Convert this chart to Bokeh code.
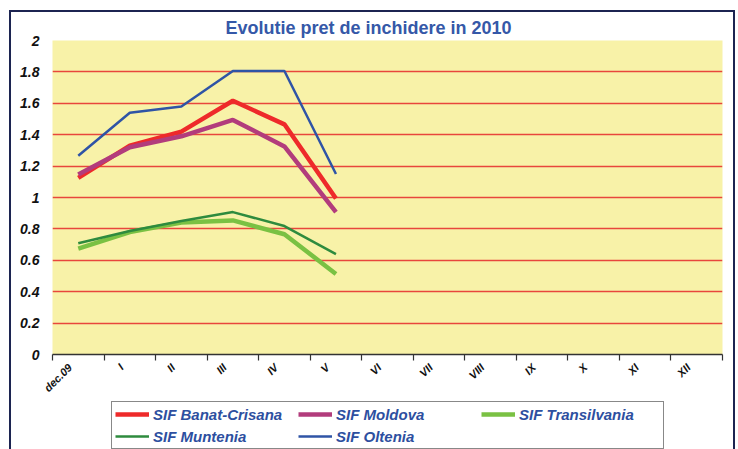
import math
from bokeh.plotting import figure
from bokeh.layouts import column
from bokeh.models import (FixedTicker, NumeralTickFormatter, Legend, LegendItem,
                          Range1d, CustomJSTickFormatter)
from bokeh.embed import file_html
from bokeh.resources import INLINE

months = ["dec.09", "I", "II", "III", "IV", "V", "VI", "VII", "VIII", "IX", "X", "XI", "XII"]
banat = [1.125, 1.33, 1.42, 1.616, 1.466, 0.994]
moldova = [1.146, 1.32, 1.39, 1.494, 1.325, 0.907]
transilvania = [0.675, 0.78, 0.84, 0.854, 0.766, 0.513]
muntenia = [0.709, 0.787, 0.85, 0.907, 0.818, 0.639]
oltenia = [1.266, 1.54, 1.58, 1.806, 1.806, 1.15]
y_ticks = [0, 0.2, 0.4, 0.6, 0.8, 1.0, 1.2, 1.4, 1.6, 1.8, 2.0]
title_text = "Evolutie pret de inchidere in 2010"

series = [
    ("SIF Banat-Crisana", banat, "#ee2a2a", 4.5),
    ("SIF Moldova", moldova, "#b23c7c", 4.5),
    ("SIF Transilvania", transilvania, "#7ac143", 4.5),
    ("SIF Muntenia", muntenia, "#2e8b3e", 2.5),
    ("SIF Oltenia", oltenia, "#2f54a6", 2.5),
]

centers = [i + 0.5 for i in range(len(months))]
label_pos = [i + 0.34 for i in range(len(months))]
bounds = list(range(len(months) + 1))
xs = centers[:len(banat)]

p = figure(width=722, height=389, output_backend="svg", toolbar_location=None,
           x_range=Range1d(0, len(months)), y_range=Range1d(0, 2),
           min_border_left=41, min_border_right=11, min_border_top=28, min_border_bottom=45)
p.background_fill_color = "#f8f2a8"
p.border_fill_color = "white"
p.outline_line_color = None

# title
p.title.text = title_text
p.title.align = "left"
p.title.offset = 173
p.title.standoff = 5
p.title.text_font = "Liberation Sans"
p.title.text_font_style = "bold"
p.title.text_font_size = "18px"
p.title.text_color = "#3558a8"

# grid
p.xgrid.visible = False
p.ygrid.ticker = FixedTicker(ticks=y_ticks)
p.ygrid.grid_line_color = "#e8473c"
p.ygrid.grid_line_width = 1.5

# x axis
xa = p.xaxis[0]
xa.ticker = FixedTicker(ticks=label_pos, minor_ticks=bounds)
xa.formatter = CustomJSTickFormatter(args=dict(labels=months),
                                     code="return labels[Math.floor(tick)] || '';")
xa.major_tick_in = 0
xa.major_tick_out = 0
xa.minor_tick_in = 0
xa.minor_tick_out = 6
xa.minor_tick_line_color = "#333333"
xa.minor_tick_line_width = 1.2
xa.axis_line_color = "#333333"
xa.axis_line_width = 1.5
xa.major_label_orientation = math.pi / 4
xa.major_label_standoff = 5
xa.major_label_text_font = "Liberation Sans"
xa.major_label_text_font_style = "bold italic"
xa.major_label_text_font_size = "11px"
xa.major_label_text_color = "#111111"

# y axis
ya = p.yaxis[0]
ya.ticker = FixedTicker(ticks=y_ticks)
ya.formatter = NumeralTickFormatter(format="0.[0]")
ya.axis_line_color = None
ya.major_tick_line_color = None
ya.minor_tick_line_color = None
ya.major_label_standoff = 7
ya.major_label_text_font = "Liberation Sans"
ya.major_label_text_font_style = "bold italic"
ya.major_label_text_font_size = "14px"
ya.major_label_text_color = "#111111"

for name, vals, color, lw in series:
    p.line(xs, vals, line_color=color, line_width=lw)

# legend strip (its own lines sit outside the visible range; only the legend shows)
lf = figure(width=722, height=48, output_backend="svg", toolbar_location=None,
            x_range=Range1d(-20, -19), y_range=Range1d(-20, -19),
            min_border_left=41, min_border_right=11, min_border_top=0, min_border_bottom=0)
lf.axis.visible = False
lf.grid.visible = False
lf.outline_line_color = None
lf.background_fill_color = "white"
lf.border_fill_color = "white"
items = []
for name, vals, color, lw in series:
    r = lf.line(xs, vals, line_color=color, line_width=lw)
    items.append(LegendItem(label=name, renderers=[r]))

legend = Legend(items=items, location=(59, 0), orientation="horizontal", ncols=3)
legend.label_text_font = "Liberation Sans"
legend.label_text_font_style = "bold italic"
legend.label_text_font_size = "15px"
legend.label_text_color = "#2d4fa0"
legend.glyph_width = 34
legend.glyph_height = 18
legend.label_height = 18
legend.label_width = 141
legend.label_standoff = 4
legend.spacing = 4
legend.padding = 3
legend.margin = 0
legend.border_line_color = "#111111"
legend.border_line_width = 1
legend.background_fill_color = "white"
legend.background_fill_alpha = 1
lf.add_layout(legend)

layout = column(p, lf, spacing=0,
                styles={"border": "2px solid #1c2451", "border-bottom": "none",
                        "margin-left": "9px", "margin-top": "10px"})

open("out.html", "w").write(file_html(layout, INLINE))
